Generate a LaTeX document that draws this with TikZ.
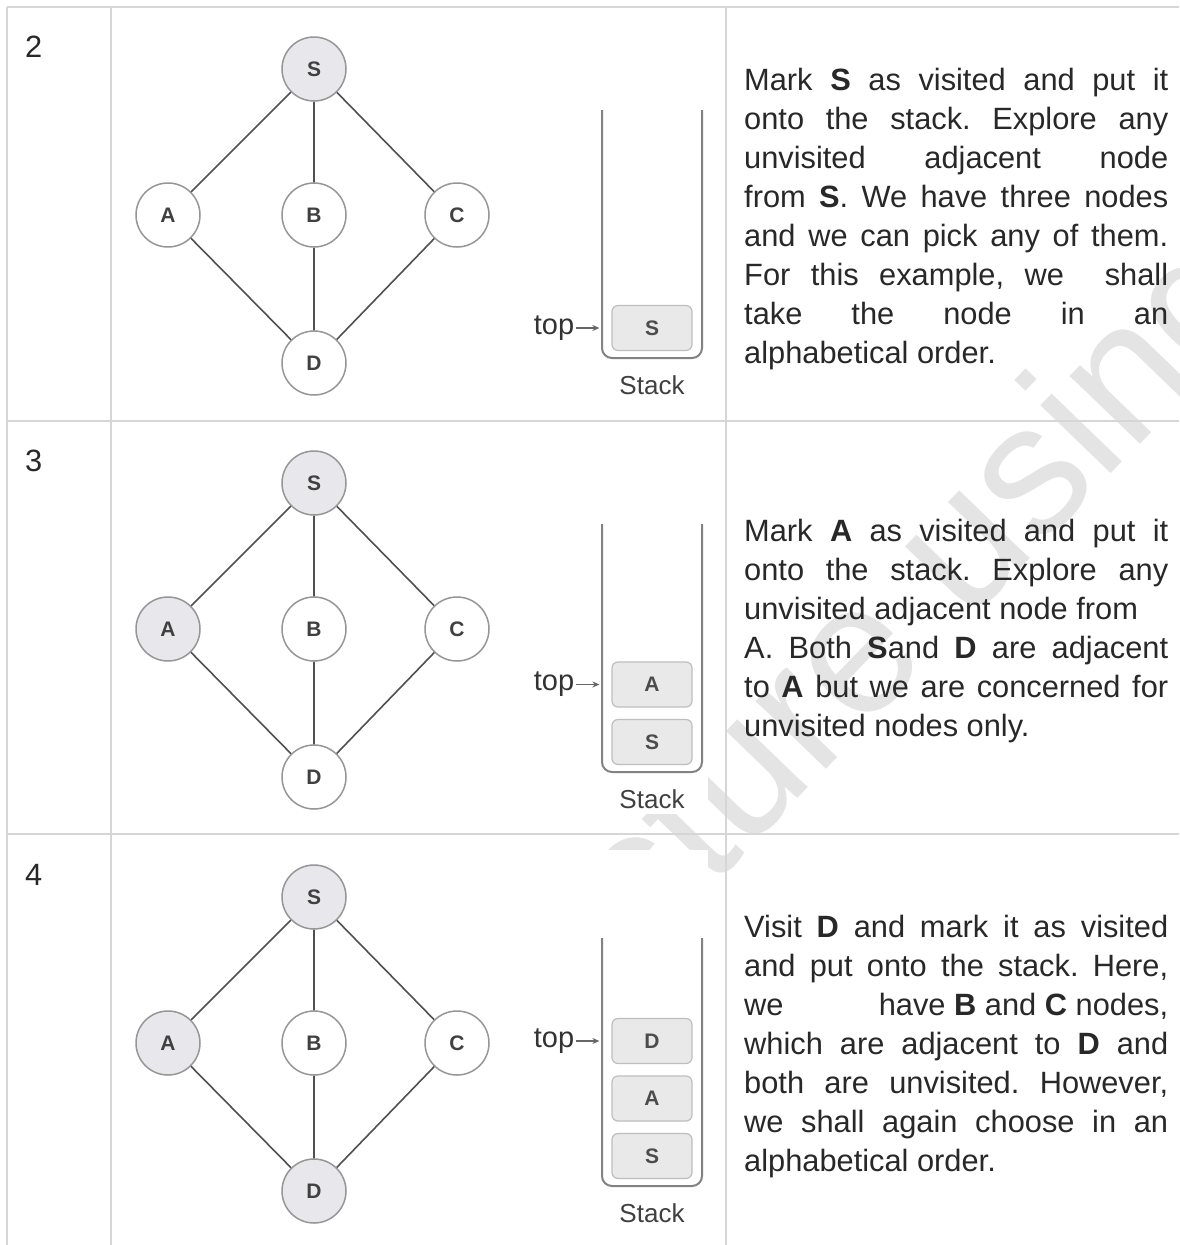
\documentclass[tikz,border=0pt]{standalone}
\usepackage{fontspec}
\setmainfont{Liberation Sans}
\frenchspacing
\usepackage{xcolor}
\definecolor{txtgray}{RGB}{40,40,40}
\definecolor{rulegray}{RGB}{214,214,214}
\definecolor{nodegray}{RGB}{150,150,150}
\definecolor{visitfill}{RGB}{232,232,236}
\definecolor{edgegray}{RGB}{80,80,80}
\definecolor{boxfill}{RGB}{233,233,233}
\definecolor{boxline}{RGB}{190,190,190}
\definecolor{wallgray}{RGB}{130,130,130}
\definecolor{wmgray}{RGB}{228,228,228}
\usetikzlibrary{arrows.meta, positioning}

\tikzset{
  vtx/.style={circle, draw=nodegray, line width=1.5pt, fill=white, minimum size=64pt,
    inner sep=0pt, font=\bfseries\fontsize{21}{21}\selectfont, text=black!75},
  seen/.style={vtx, fill=visitfill},
  edge/.style={edgegray, line width=1.6pt},
  stackwall/.style={wallgray, line width=2pt, rounded corners=10pt},
  slot/.style={draw=boxline, fill=boxfill, line width=1.2pt, rounded corners=6pt,
    minimum width=80pt, minimum height=45pt, inner sep=0pt,
    font=\bfseries\fontsize{21}{21}\selectfont, text=black!70},
  toplbl/.style={inner sep=0pt, font=\fontsize{29}{29}\selectfont, text=black!80},
  toparrow/.style={-{Stealth[length=7pt,width=6pt]}, black!60, line width=1.2pt},
  stacklbl/.style={inner sep=0pt, font=\fontsize{26}{26}\selectfont, text=black!75},
  rownum/.style={anchor=base west, inner sep=0pt, font=\fontsize{30.8}{30.8}\selectfont, text=txtgray},
  txtline/.style={anchor=base west, inner sep=0pt, font=\fontsize{30.8}{39}\selectfont, text=txtgray},
  rule/.style={rulegray, line width=2pt},
  wmark/.style={anchor=base west, inner sep=0pt, text=wmgray, font=\fontsize{185}{185}\selectfont},
}

\begin{document}
\begin{tikzpicture}[x=1pt, y=-1pt]
  % Page
  \fill[white] (0,0) rectangle (1179,1245);
  \useasboundingbox (0,0) rectangle (1179,1245);

  % Watermark (behind everything)
  \node[wmark, rotate=46] (wm) at (410,1200) {Structure using};

  % Picture backgrounds hide the watermark
  \fill[white] (122,22) rectangle (708,400);
  \fill[white] (122,436) rectangle (708,814);
  \fill[white] (122,850) rectangle (708,1228);

  % Table rules
  \draw[rule] (7,7) -- (1179,7);
  \draw[rule] (7,421) -- (1179,421);
  \draw[rule] (7,834) -- (1179,834);
  \draw[rule] (7,7) -- (7,1245);
  \draw[rule] (111,7) -- (111,1245);
  \draw[rule] (726,7) -- (726,1245);

  % Row numbers
  \node[rownum] (n2) at (25,57) {2};
  \node[rownum] (n3) at (25,471) {3};
  \node[rownum] (n4) at (25,885) {4};

  % ---- Row 2: S visited
  \node[seen] (S1) at (314,69) {S};
  \node[vtx] (A1) at (168,215) {A};
  \node[vtx] (B1) at (314,215) {B};
  \node[vtx] (C1) at (457,215) {C};
  \node[vtx] (D1) at (314,363) {D};
  \draw[edge] (S1) -- (A1) (S1) -- (B1) (S1) -- (C1)
              (A1) -- (D1) (B1) -- (D1) (C1) -- (D1);

  \draw[stackwall] (602,110) -- (602,358) -- (702,358) -- (702,110);
  \node[slot] (k1s) at (652,328) {S};
  \node[toplbl, left=37pt of k1s] (top1) {top};
  \draw[toparrow, shorten <=2pt, shorten >=12pt] (top1) -- (k1s);
  \node[stacklbl] (st1) at (652,385) {Stack};

  \foreach \tline [count=\i from 0] in {
      {Mark \textbf{S} as visited and put it},
      {onto the stack. Explore any},
      {unvisited adjacent node},
      {from \textbf{S}. We have three nodes},
      {and we can pick any of them.},
      {For this example, we\ \ shall},
      {take the node in an},
      {alphabetical order.\hfill}}
    \node[txtline] (p1-\i) at (744,90+39*\i) {\makebox[424pt][s]{\tline}};

  % ---- Row 3: A visited
  \node[seen] (S2) at (314,483) {S};
  \node[seen] (A2) at (168,629) {A};
  \node[vtx] (B2) at (314,629) {B};
  \node[vtx] (C2) at (457,629) {C};
  \node[vtx] (D2) at (314,777) {D};
  \draw[edge] (S2) -- (A2) (S2) -- (B2) (S2) -- (C2)
              (A2) -- (D2) (B2) -- (D2) (C2) -- (D2);

  \draw[stackwall] (602,524) -- (602,772) -- (702,772) -- (702,524);
  \node[slot] (k2s) at (652,742) {S};
  \node[slot] (k2a) at (652,684.5) {A};
  \node[toplbl, left=37pt of k2a] (top2) {top};
  \draw[toparrow, shorten <=2pt, shorten >=12pt] (top2) -- (k2a);
  \node[stacklbl] (st2) at (652,799) {Stack};

  \foreach \tline [count=\i from 0] in {
      {Mark \textbf{A} as visited and put it},
      {onto the stack. Explore any},
      {unvisited adjacent node from\hfill},
      {A. Both \textbf{S}and \textbf{D} are adjacent},
      {to \textbf{A} but we are concerned for},
      {unvisited nodes only.\hfill}}
    \node[txtline] (p2-\i) at (744,541+39*\i) {\makebox[424pt][s]{\tline}};

  % ---- Row 4: D visited
  \node[seen] (S3) at (314,897) {S};
  \node[seen] (A3) at (168,1043) {A};
  \node[vtx] (B3) at (314,1043) {B};
  \node[vtx] (C3) at (457,1043) {C};
  \node[seen] (D3) at (314,1191) {D};
  \draw[edge] (S3) -- (A3) (S3) -- (B3) (S3) -- (C3)
              (A3) -- (D3) (B3) -- (D3) (C3) -- (D3);

  \draw[stackwall] (602,938) -- (602,1186) -- (702,1186) -- (702,938);
  \node[slot] (k3s) at (652,1156) {S};
  \node[slot] (k3a) at (652,1098.5) {A};
  \node[slot] (k3d) at (652,1041) {D};
  \node[toplbl, left=37pt of k3d] (top3) {top};
  \draw[toparrow, shorten <=2pt, shorten >=12pt] (top3) -- (k3d);
  \node[stacklbl] (st3) at (652,1213) {Stack};

  \foreach \tline [count=\i from 0] in {
      {Visit \textbf{D} and mark it as visited},
      {and put onto the stack. Here,},
      {we\hfill have \textbf{B} and \textbf{C} nodes,},
      {which are adjacent to \textbf{D} and},
      {both are unvisited. However,},
      {we shall again choose in an},
      {alphabetical order.\hfill}}
    \node[txtline] (p3-\i) at (744,937+39*\i) {\makebox[424pt][s]{\tline}};
\end{tikzpicture}
\end{document}
